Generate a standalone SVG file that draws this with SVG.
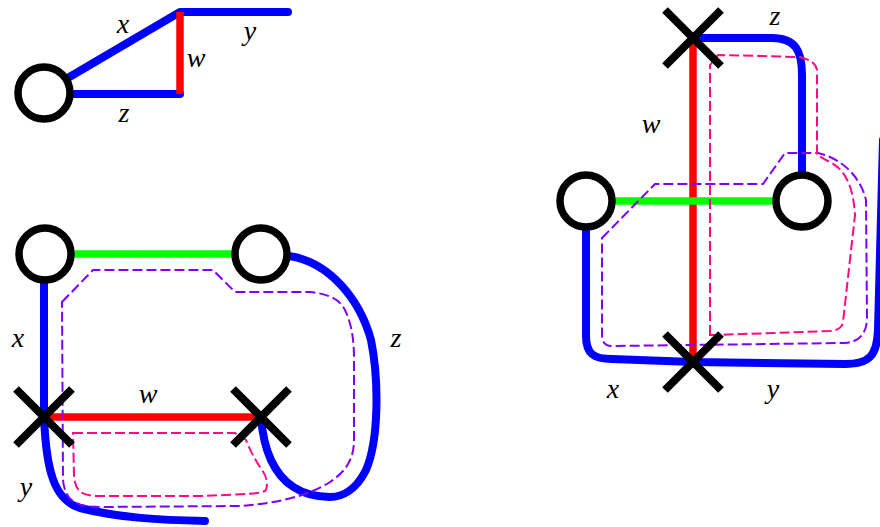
<svg xmlns="http://www.w3.org/2000/svg" width="880" height="527" viewBox="0 0 880 527">
<style>
.bl{fill:none;stroke:#0000ff;stroke-width:8;stroke-linecap:round;stroke-linejoin:round}
.rd{fill:none;stroke:#ff0000;stroke-width:7.5}
.gr{fill:none;stroke:#00ff00;stroke-width:7.5}
.pu{fill:none;stroke:#8000ff;stroke-width:2;stroke-dasharray:10 4}
.pk{fill:none;stroke:#ff0a84;stroke-width:2;stroke-dasharray:10 4}
.nd{fill:#fff;stroke:#000;stroke-width:7.5}
.xm{stroke:#000;stroke-width:8;fill:none}
.lb{font-family:"Liberation Serif","Times New Roman",serif;font-style:italic;font-size:28px;fill:#000;text-anchor:middle}
</style>
<defs>
<g id="xmark"><path class="xm" d="M-28,-28L28,28M-28,28L28,-28"/></g>
</defs>
<g id="connectors">
<path class="bl" d="M66,79L180,12L288,12"/>
<path class="bl" d="M70,94L180,94"/>
<path class="rd" d="M180,12L180,94"/>
<path class="gr" d="M72,254L234,254"/>
<path class="bl" d="M44,282L44,416C46,470 54,500 80,508C120,518 160,520 205,521"/>
<path class="rd" d="M44,417L261,417"/>
<path class="bl" d="M289,256C330,262 360,300 371,340C379,380 379,440 366,470C356,490 342,497 330,497C300,497 281,482 271,460C264,445 262,430 261,417"/>
<path class="pu" d="M62,302L93,270L213,270L235,292L310,292C330,294 340,300 345,310C352,325 354,340 354,360L354,440C354,460 345,472 330,482C310,495 280,503 240,506L100,507C75,507 65,500 63,480Z"/>
<path class="pk" d="M73,433L235,433L246,440C250,450 255,460 262,470C267,477 268,484 266,490C262,494 250,494 200,496L95,496C80,495 75,490 74,475Z"/>
<path class="rd" d="M693,38L693,362"/>
<path class="gr" d="M612,201L776,201"/>
<path class="bl" d="M693,38L772,38C795,38 802,50 802,75L802,174"/>
<path class="bl" d="M586,228L586,336C586,354 594,359 612,359L693,362L845,364C870,364 877,355 878,330L883,140"/>
<path class="pu" d="M602,238L655,184L763,184L785,153L818,153C840,158 860,175 866,200L867,320C866,335 858,342 845,343L612,346C605,346 602,342 602,335Z"/>
<path class="pk" d="M710,335L710,65L718,55L800,57C810,60 815,62 817,70L817,155L826,160C845,168 853,185 855,215L843,322C842,328 838,330 830,331L715,335Z"/>
</g>
<g id="n_tl_circle"><circle class="nd" cx="44" cy="93" r="26"/></g>
<g id="n_bl_c1"><circle class="nd" cx="45" cy="254" r="26"/></g>
<g id="n_bl_c2"><circle class="nd" cx="261" cy="254" r="26"/></g>
<g id="n_bl_x1"><use href="#xmark" x="44" y="417"/></g>
<g id="n_bl_x2"><use href="#xmark" x="261" y="417"/></g>
<g id="n_r_c1"><circle class="nd" cx="586" cy="201" r="26"/></g>
<g id="n_r_c2"><circle class="nd" cx="802" cy="201" r="26"/></g>
<g id="n_r_x1"><use href="#xmark" x="693" y="38"/></g>
<g id="n_r_x2"><use href="#xmark" x="693" y="362"/></g>
<g id="labels">
<text class="lb" x="123" y="33">x</text>
<text class="lb" x="250" y="40">y</text>
<text class="lb" x="196" y="67">w</text>
<text class="lb" x="124" y="122">z</text>
<text class="lb" x="18" y="347">x</text>
<text class="lb" x="396" y="347">z</text>
<text class="lb" x="148" y="403">w</text>
<text class="lb" x="26" y="496">y</text>
<text class="lb" x="775" y="25">z</text>
<text class="lb" x="651" y="133">w</text>
<text class="lb" x="613" y="398">x</text>
<text class="lb" x="773" y="398">y</text>
</g>
</svg>
